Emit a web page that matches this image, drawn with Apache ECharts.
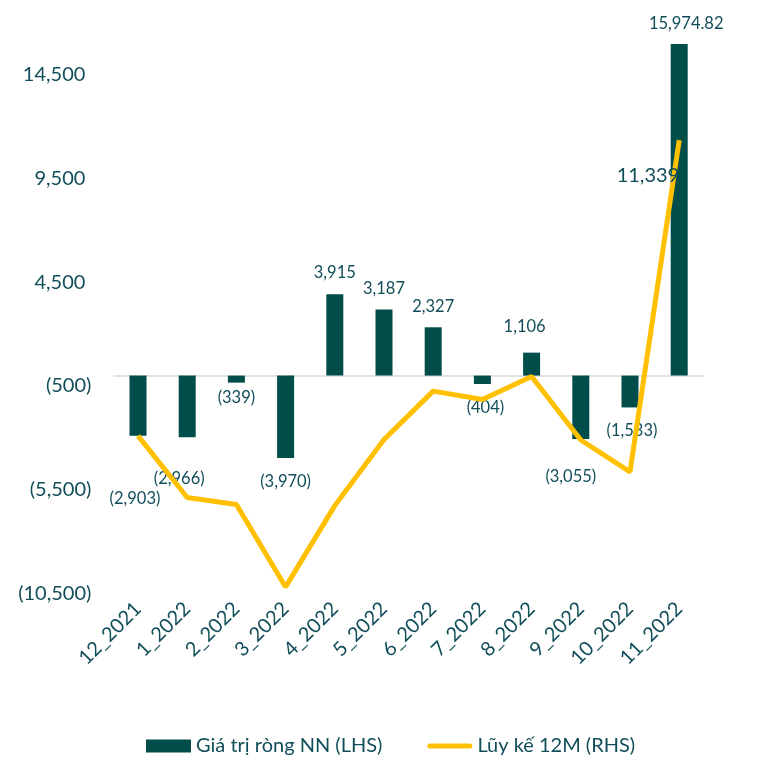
<!DOCTYPE html>
<html><head><meta charset="utf-8">
<script src="https://cdn.jsdelivr.net/npm/echarts@6/dist/echarts.min.js"></script>
<style>html,body{margin:0;padding:0;background:#fff}#c{width:765px;height:767px}</style>
</head><body><div id="c"></div>
<script>
const categories = ['12_2021','1_2022','2_2022','3_2022','4_2022','5_2022','6_2022','7_2022','8_2022','9_2022','10_2022','11_2022'];
const netValues = [-2903, -2966, -339, -3970, 3915, 3187, 2327, -404, 1106, -3055, -1533, 15974.82];
const cumulative12M = [-2903, -5869, -6208, -10178, -6263, -3076, -749, -1153, -47, -3102, -4635, 11339];
const yTicks = [-10500, -5500, -500, 4500, 9500, 14500];
const seriesNames = ['Giá trị ròng NN (LHS)', 'Lũy kế 12M (RHS)'];

// label nudges (style only)
const labelNudge = [[-3,49],[-8,28],[0,2],[0,10],[0,-8],[0,-7],[0,-7],[3,10],[-7,-12],[-10,24],[2,10],[7,-7]];

const TEXT = '#124E5A';
const BAR = '#014D4A';
const LINE = '#FFC000';
const FONT = 'Lato';

function fmt(v){
  const s = Math.abs(v).toLocaleString('en-US',{maximumFractionDigits:2});
  return v < 0 ? '(' + s + ')' : s;
}

const barData = netValues.map((v, i) => ({
  value: v,
  label: {
    show: true,
    position: v < 0 ? 'bottom' : 'top',
    offset: labelNudge[i]
  }
}));

const chart = echarts.init(document.getElementById('c'), null, {renderer: 'canvas'});
chart.setOption({
  animation: false,
  backgroundColor: '#fff',
  textStyle: {fontFamily: FONT},
  grid: {left: 113.4, right: 61.2, top: 43.4, bottom: 173.4, containLabel: false},
  legend: {
    left: 141, top: 731,
    itemWidth: 45, itemHeight: 13, itemGap: 45,
    textStyle: {fontSize: 20, color: TEXT, fontFamily: FONT},
    data: [
      {name: seriesNames[0], icon: 'rect'},
      {name: seriesNames[1], icon: 'path://M2.5,0 L42.5,0 A2.5,2.5 0 0 1 42.5,5 L2.5,5 A2.5,2.5 0 0 1 2.5,0 Z', itemStyle: {color: LINE}}
    ]
  },
  xAxis: {
    type: 'category',
    data: categories,
    axisLine: {show: false, onZero: false},
    axisTick: {show: false},
    splitLine: {show: false},
    axisLabel: {rotate: 45, interval: 0, margin: 12, fontSize: 20, color: TEXT, fontFamily: FONT}
  },
  yAxis: {
    type: 'value',
    min: yTicks[0],
    max: 16000,
    interval: yTicks[1] - yTicks[0],
    axisLine: {show: false},
    axisTick: {show: false},
    splitLine: {show: false},
    axisLabel: {
      margin: 22,
      fontSize: 20,
      color: TEXT,
      fontFamily: FONT,
      formatter: function(v){
        if (yTicks.indexOf(v) < 0) return '';
        return v < 0 ? '{n|' + fmt(v) + '}' : '{p|' + fmt(v) + '}';
      },
      rich: {
        n: {fontSize: 20, color: TEXT, fontFamily: FONT},
        p: {fontSize: 20, color: TEXT, fontFamily: FONT, padding: [0, 6, 0, 0]}
      }
    }
  },
  series: [
    {
      name: seriesNames[0],
      type: 'bar',
      data: barData,
      barWidth: 17,
      itemStyle: {color: BAR},
      label: {
        show: true,
        fontSize: 16.5,
        color: TEXT,
        fontFamily: FONT,
        formatter: p => fmt(p.value)
      },
      markLine: {
        silent: true,
        symbol: ['none', 'none'],
        label: {show: false},
        lineStyle: {color: '#D9D9D9', width: 1.5, type: 'solid'},
        data: [{yAxis: 0}],
        z: 1
      },
      z: 2
    },
    {
      name: seriesNames[1],
      type: 'line',
      data: cumulative12M,
      symbol: 'none',
      lineStyle: {color: LINE, width: 5},
      itemStyle: {color: LINE},
      endLabel: {
        show: true,
        formatter: p => fmt(p.value),
        fontSize: 20,
        color: TEXT,
        fontFamily: FONT,
        align: 'right',
        distance: 0,
        offset: [0, 35]
      },
      z: 3
    }
  ]
});
</script>
</body></html>
